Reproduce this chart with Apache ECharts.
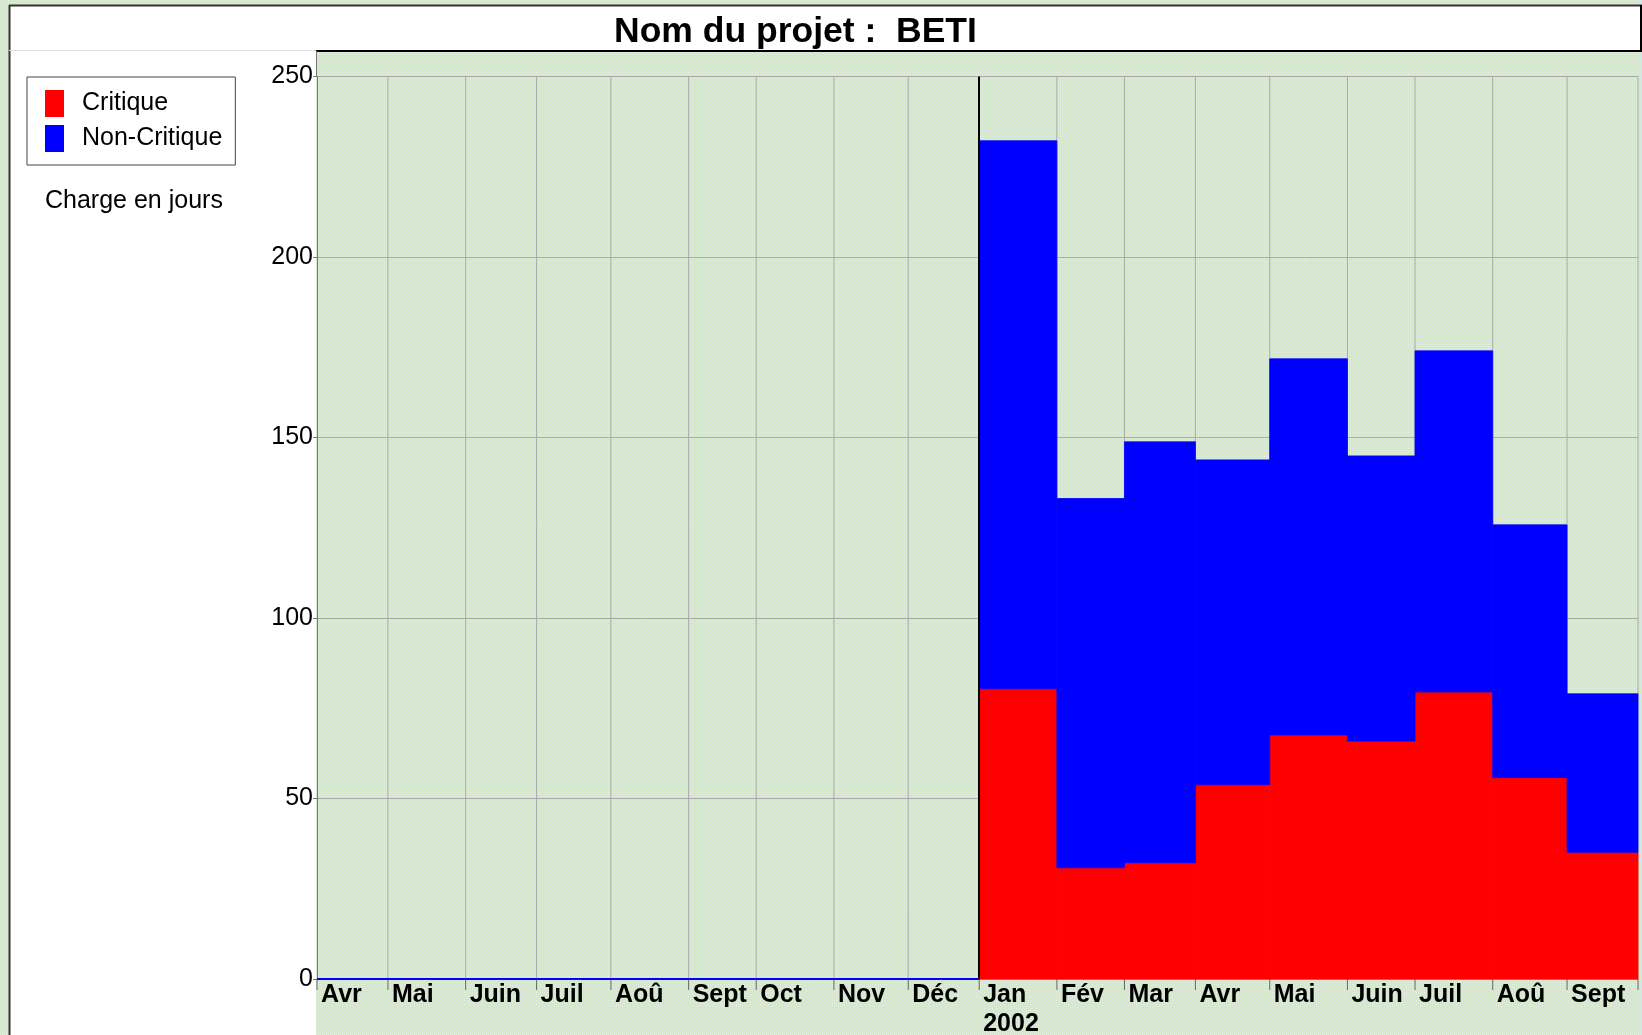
<!DOCTYPE html>
<html>
<head>
<meta charset="utf-8">
<title>Nom du projet : BETI</title>
<script src="https://cdn.jsdelivr.net/npm/echarts@6/dist/echarts.min.js"></script>
<style>
  html, body { margin: 0; padding: 0; }
  #main { width: 1642px; height: 1035px; }
</style>
</head>
<body>
<div id="main"></div>
<script>
// mois (largeur = nombre de jours ouvrés)
const months = ['Avr', 'Mai', 'Juin', 'Juil', 'Aoû', 'Sept', 'Oct', 'Nov', 'Déc',
  'Jan', 'Fév', 'Mar', 'Avr', 'Mai', 'Juin', 'Juil', 'Aoû', 'Sept']
const yearLabels = ['', '', '', '', '', '', '', '', '', '2002', '', '', '', '', '', '', '', '']
const workDays = [21, 23, 21, 22, 23, 20, 23, 22, 21, 23, 20, 21, 22, 23, 20, 23, 22, 21]
// charge en jours
const critique = [0, 0, 0, 0, 0, 0, 0, 0, 0, 80.4, 30.8, 32.2, 53.8, 67.6, 65.9, 79.5, 55.8, 35.1]
const nonCritique = [0, 0, 0, 0, 0, 0, 0, 0, 0, 151.8, 102.3, 116.6, 90.0, 104.2, 79.0, 94.5, 70.0, 43.9]
const yMax = 250
const yInterval = 50
const markerMonth = 9 // Jan 2002

const FONT = 'Liberation Sans, Arial, sans-serif'

// debut / fin de chaque mois en jours ouvrés
let starts = []
let acc = 0
workDays.forEach(d => { starts.push(acc); acc += d })
const totalDays = acc

// motif du fond
function makePattern() {
  let c = document.createElement('canvas')
  c.width = 4
  c.height = 4
  let ctx = c.getContext('2d')
  ctx.fillStyle = '#c9e5ee'
  ctx.fillRect(0, 0, 4, 4)
  ctx.fillStyle = '#e9f2cf'
  ctx.fillRect(0, 0, 1, 1)
  ctx.fillRect(2, 2, 1, 1)
  ctx.fillStyle = '#d6ede4'
  ctx.fillRect(2, 0, 1, 1)
  ctx.fillRect(0, 2, 1, 1)
  return c
}

const chart = echarts.init(document.getElementById('main'))

const gridData = months.map((m, i) => [starts[i], starts[i] + workDays[i]])
const critData = months.map((m, i) => [starts[i], starts[i] + workDays[i], critique[i]])
const nonCritData = months.map((m, i) => [starts[i], starts[i] + workDays[i], critique[i], nonCritique[i]])

chart.setOption({
  animation: false,
  textStyle: { fontFamily: FONT },
  title: {
    text: 'Nom du projet :  BETI',
    left: 609,
    top: 9,
    textStyle: { fontSize: 35.5, fontWeight: 'bold', color: '#000', fontFamily: FONT }
  },
  legend: {
    data: ['Critique', 'Non-Critique'],
    orient: 'vertical',
    left: 27,
    top: 77,
    padding: [13, 13, 13, 18],
    itemWidth: 19,
    itemHeight: 27,
    itemGap: 8,
    icon: 'rect',
    selectedMode: false,
    borderColor: '#444',
    borderWidth: 1,
    backgroundColor: '#fff',
    textStyle: { fontSize: 25, color: '#000', fontFamily: FONT, padding: [2, 0, 0, 13] }
  },
  graphic: [
    { type: 'rect', z: -20, silent: true, shape: { x: 0, y: 0, width: 1642, height: 1035 },
      style: { fill: { image: makePattern(), repeat: 'repeat' } } },
    { type: 'rect', z: -15, silent: true, shape: { x: 9, y: 5, width: 1632, height: 46 }, style: { fill: '#fff' } },
    { type: 'rect', z: -15, silent: true, shape: { x: 9, y: 51, width: 307, height: 984 }, style: { fill: '#fff' } },
    { type: 'line', z: -10, silent: true, shape: { x1: 9.5, y1: 5, x2: 9.5, y2: 1035 }, style: { stroke: '#333', lineWidth: 2 } },
    { type: 'line', z: -10, silent: true, shape: { x1: 9, y1: 5.5, x2: 1642, y2: 5.5 }, style: { stroke: '#333', lineWidth: 2 } },
    { type: 'line', z: -10, silent: true, shape: { x1: 1641, y1: 5, x2: 1641, y2: 51 }, style: { stroke: '#000', lineWidth: 2 } },
    { type: 'line', z: -10, silent: true, shape: { x1: 9, y1: 50.5, x2: 316, y2: 50.5 }, style: { stroke: '#ddd', lineWidth: 1 } },
    { type: 'line', z: -10, silent: true, shape: { x1: 316, y1: 51, x2: 1642, y2: 51 }, style: { stroke: '#000', lineWidth: 2 } },
    { type: 'line', z: -10, silent: true, shape: { x1: 316.5, y1: 51, x2: 316.5, y2: 77 }, style: { stroke: '#777', lineWidth: 1 } },
    { type: 'text', z: 10, silent: true, left: 45, top: 189,
      style: { text: 'Charge en jours', fontSize: 25, fill: '#000', fontFamily: FONT } }
  ],
  grid: {
    left: 317,
    right: 4,
    top: 76.5,
    bottom: 56
  },
  xAxis: {
    type: 'value',
    min: 0,
    max: totalDays,
    axisLine: { show: true, lineStyle: { color: '#999', width: 1 } },
    axisTick: { show: false },
    axisLabel: { show: false },
    splitLine: { show: false }
  },
  yAxis: {
    type: 'value',
    min: 0,
    max: yMax,
    interval: yInterval,
    axisLine: { show: true, lineStyle: { color: '#777' } },
    axisTick: { show: true, length: 4, lineStyle: { color: '#777' } },
    axisLabel: { fontSize: 25, color: '#000', margin: 4, fontFamily: FONT, padding: [6, 0, 0, 0] },
    splitLine: { show: true, lineStyle: { color: '#aaa', width: 1 } }
  },
  series: [
    {
      // grille des mois + libellés
      name: 'mois',
      type: 'custom',
      z: 1,
      silent: true,
      clip: false,
      data: gridData,
      renderItem(params, api) {
        let i = params.dataIndex
        let s = api.value(0)
        let e = api.value(1)
        let p0 = api.coord([s, 0])
        let pe = api.coord([e, 0])
        let pt = api.coord([e, yMax])
        let children = [
          { type: 'line', shape: { x1: pe[0], y1: pe[1], x2: pt[0], y2: pt[1] }, style: { stroke: '#aaa', lineWidth: 1 } },
          { type: 'line', shape: { x1: p0[0], y1: p0[1], x2: p0[0], y2: p0[1] + 11 }, style: { stroke: '#666', lineWidth: 1 } },
          { type: 'text', x: p0[0] + 4, y: p0[1] + 16,
            style: { text: months[i], fontSize: 25, fontWeight: 'bold', fontFamily: FONT, fill: '#000', align: 'left', verticalAlign: 'middle' } }
        ]
        if (yearLabels[i]) {
          children.push({ type: 'text', x: p0[0] + 4, y: p0[1] + 45,
            style: { text: yearLabels[i], fontSize: 25, fontWeight: 'bold', fontFamily: FONT, fill: '#000', align: 'left', verticalAlign: 'middle' } })
        }
        if (i === months.length - 1) {
          children.push({ type: 'line', shape: { x1: pe[0], y1: pe[1], x2: pe[0], y2: pe[1] + 11 }, style: { stroke: '#666', lineWidth: 1 } })
        }
        return { type: 'group', children: children }
      },
      markLine: {
        silent: true,
        symbol: 'none',
        label: { show: false },
        lineStyle: { color: '#000', width: 2, type: 'solid' },
        data: [{ xAxis: starts[markerMonth] }]
      }
    },
    {
      name: 'Critique',
      type: 'custom',
      z: 2,
      itemStyle: { color: '#ff0000' },
      data: critData,
      encode: { x: [0, 1], y: 2 },
      renderItem(params, api) {
        let p0 = api.coord([api.value(0), 0])
        let p1 = api.coord([api.value(1), api.value(2)])
        return {
          type: 'rect',
          shape: { x: p0[0], y: p1[1], width: p1[0] - p0[0], height: p0[1] - p1[1] },
          style: { fill: '#ff0000', stroke: '#ff0000', lineWidth: 0.8 }
        }
      }
    },
    {
      name: 'Non-Critique',
      type: 'custom',
      z: 3,
      itemStyle: { color: '#0000ff' },
      data: nonCritData,
      encode: { x: [0, 1], y: [2, 3] },
      renderItem(params, api) {
        let base = api.value(2)
        let v = api.value(3)
        let p0 = api.coord([api.value(0), base])
        let p1 = api.coord([api.value(1), base + v])
        if (v === 0) {
          return {
            type: 'line',
            shape: { x1: p0[0], y1: p0[1], x2: p1[0], y2: p1[1] },
            style: { stroke: '#0000ff', lineWidth: 2 }
          }
        }
        return {
          type: 'rect',
          shape: { x: p0[0], y: p1[1], width: p1[0] - p0[0], height: p0[1] - p1[1] },
          style: { fill: '#0000ff', stroke: '#0000ff', lineWidth: 0.8 }
        }
      }
    }
  ]
})
</script>
</body>
</html>
